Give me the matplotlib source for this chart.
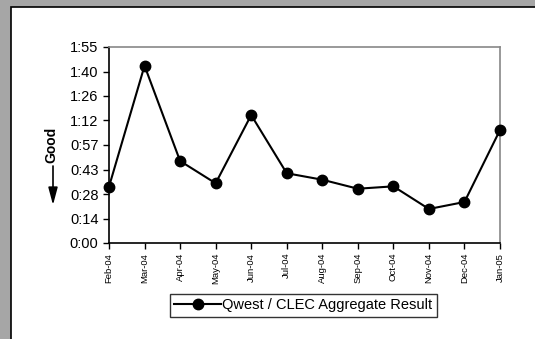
import matplotlib
matplotlib.use("Agg")
import matplotlib.pyplot as plt
from matplotlib.patches import Rectangle
from matplotlib.ticker import FuncFormatter

plt.rcParams['font.family'] = ['Liberation Sans', 'DejaVu Sans']

months = ['Feb-04', 'Mar-04', 'Apr-04', 'May-04', 'Jun-04', 'Jul-04',
          'Aug-04', 'Sep-04', 'Oct-04', 'Nov-04', 'Dec-04', 'Jan-05']
# aggregate result in minutes
minutes = [33.1, 104.2, 48.2, 35.1, 75.2, 41.0, 37.2, 31.9, 33.3, 20.0, 24.1, 66.4]
series_name = 'Qwest / CLEC Aggregate Result'
y_ticks = [i * 14.4 for i in range(9)]  # 0.01 day steps


def hmm(v, pos=None):
    m = int(v + 1e-6)
    return '%d:%02d' % (m // 60, m % 60)


fig = plt.figure(figsize=(5.35, 3.39), dpi=100, facecolor='#a6a6a6')
fig.patches.append(Rectangle((11 / 535, -0.2), 1.2, 1.2 - 7 / 339,
                             transform=fig.transFigure, facecolor='white',
                             edgecolor='black', linewidth=1.2, zorder=-1))

ax = fig.add_axes([109 / 535, 96 / 339, 391 / 535, 196 / 339])
x = range(len(months))
ax.plot(x, minutes, color='black', linewidth=1.5, marker='o',
        markersize=7.5, label=series_name, clip_on=False, zorder=3)

ax.set_xlim(0, len(months) - 1)
ax.set_ylim(0, 115.2)
ax.set_yticks(y_ticks)
ax.yaxis.set_major_formatter(FuncFormatter(hmm))
ax.set_xticks(list(x))
ax.set_xticklabels(months, rotation=90, fontsize=6.8)
ax.tick_params(axis='y', labelsize=10.5, length=4, width=1, direction='out')
ax.tick_params(axis='x', length=4, width=1, direction='out', pad=3)

for s in ['top', 'right']:
    ax.spines[s].set_color('#888888')
    ax.spines[s].set_linewidth(1.2)
for s in ['left', 'bottom']:
    ax.spines[s].set_color('black')
    ax.spines[s].set_linewidth(1.2)

fig.text(51 / 535, 1 - 145 / 339, 'Good', rotation=90, fontsize=10,
         fontweight='bold', ha='center', va='center')
ax.annotate('', xy=(53 / 535, 1 - 205 / 339), xytext=(53 / 535, 1 - 166 / 339),
            xycoords='figure fraction', textcoords='figure fraction',
            arrowprops=dict(arrowstyle='-|>,head_length=0.75,head_width=0.2',
                            color='black', lw=1.2, mutation_scale=14,
                            shrinkA=0, shrinkB=0),
            annotation_clip=False)

leg = fig.legend(loc='center', bbox_to_anchor=(303.5 / 535, 1 - 305.5 / 339),
                 fontsize=10.5, frameon=True, fancybox=False, handlelength=3.2,
                 borderpad=0.3, handletextpad=0.1)
leg.get_frame().set_edgecolor('black')
leg.get_frame().set_linewidth(1.0)

fig.savefig('out.png', dpi=100, facecolor=fig.get_facecolor())
